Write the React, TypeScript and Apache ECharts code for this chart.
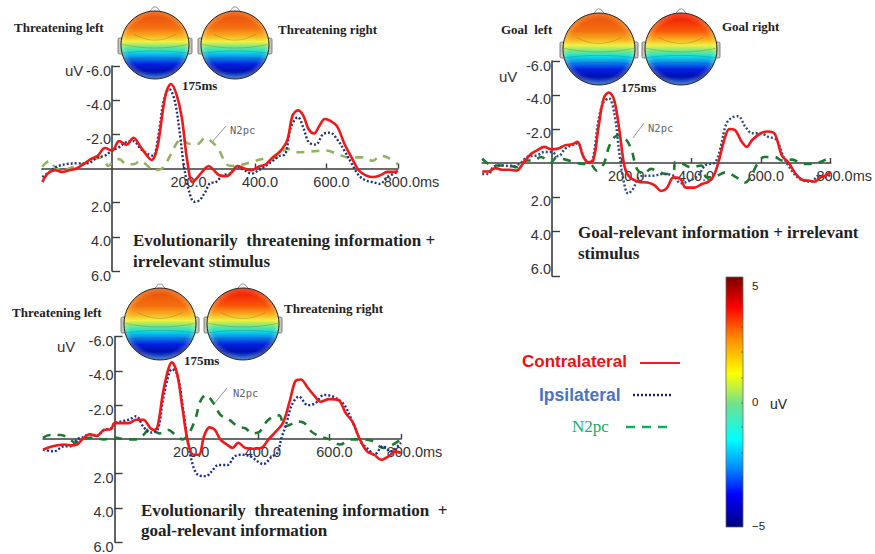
import React, { useEffect, useRef } from "react";
import * as echarts from "echarts";

const yTickValues = [-6, -4, -2, 2, 4, 6];
const yLabelValues = [-6, -4, -2, 2, 4, 6];
const xTickValues = [200, 400, 600, 800];

const threatIrrelevantContra = [[-195,0.8],[-180,0.3],[-160,0.1],[-140,0.2],[-120,0.1],[-100,0],[-80,-0.25],[-60,-0.55],[-40,-0.75],[-20,-1.2],[0,-1.05],[20,-1.6],[40,-1.4],[60,-1.8],[80,-1.25],[100,-0.7],[110,-0.5],[120,-0.75],[130,-1.6],[150,-4.35],[165,-4.95],[180,-4.35],[195,-3],[210,-0.5],[225,0.8],[240,0.5],[260,0],[270,-0.15],[285,0.1],[300,0.4],[320,0.45],[340,0.1],[350,-0.15],[370,0],[390,0.1],[410,-0.1],[430,-0.25],[450,-0.65],[470,-1],[490,-1.65],[505,-3.1],[520,-3.4],[535,-3.1],[550,-2.3],[565,-2.05],[580,-2.5],[595,-2.9],[610,-2.8],[630,-2.45],[650,-1.45],[670,-0.65],[690,0.1],[710,0.4],[730,0.5],[750,0.4],[770,0.2],[790,0.2],[800,0.15]];
const threatIrrelevantIpsi = [[-195,0.5],[-175,0.2],[-155,-0.1],[-130,-0.25],[-100,-0.3],[-70,-0.3],[-40,-0.65],[-20,-0.75],[0,-1.05],[20,-1.25],[40,-1.55],[60,-1.6],[80,-1.15],[100,-0.85],[115,-0.75],[130,-2],[145,-4],[160,-4.65],[175,-4],[190,-2],[200,-0.3],[215,1.3],[230,1.95],[245,1.85],[260,1.4],[275,0.85],[290,0.8],[310,0.4],[330,0.3],[350,-0.1],[370,0.1],[390,0.3],[410,0.1],[430,-0.15],[450,-0.45],[470,-0.75],[485,-0.85],[500,-2.4],[520,-3],[535,-2.4],[550,-1.55],[570,-1.4],[590,-2],[610,-2.1],[630,-1.7],[650,-1.05],[670,-0.3],[690,0.4],[710,0.7],[730,0.8],[750,0.9],[770,0.5],[800,0.2]];
const threatIrrelevantN2pc = [[-195,-0.1],[-175,-0.45],[-160,-0.1],[-140,0.1],[-120,0],[-100,-0.15],[-70,-0.35],[-50,-0.55],[-30,-0.65],[-10,-0.15],[5,-0.45],[20,-0.55],[40,-0.25],[60,-0.25],[80,-0.45],[100,-0.15],[115,0.1],[140,0],[160,-0.65],[180,-1.45],[195,-1.75],[215,-1.45],[240,-1.45],[260,-1.8],[280,-1.55],[300,-1.05],[320,-0.25],[340,-0.15],[370,-0.25],[400,-0.45],[430,-0.6],[460,-0.65],[480,-1.05],[490,-1.15],[520,-0.95],[560,-1],[600,-1.05],[630,-0.85],[660,-0.65],[700,-0.65],[730,-0.45],[750,-0.75],[770,-0.65],[800,-0.25]];

const goalIrrelevantContra = [[-198,0.5],[-180,0.5],[-160,0.3],[-140,0.4],[-120,0.4],[-100,0.45],[-80,0],[-60,-0.5],[-40,-0.75],[-20,-0.95],[0,-0.8],[20,-0.85],[40,-1.05],[60,-1.1],[75,-1.25],[90,-0.45],[105,-0.05],[120,-0.15],[135,-2.1],[150,-3.8],[165,-4.15],[180,-3.7],[195,-1.9],[210,0.25],[225,0.85],[250,1.1],[275,1.15],[295,1.3],[315,1.65],[330,1.5],[350,0.85],[370,0.95],[385,1.45],[410,1.45],[430,1.25],[450,1.1],[465,0.75],[480,-0.15],[495,-1.35],[510,-2],[525,-1.95],[545,-1.25],[560,-0.95],[575,-1.35],[600,-1.75],[620,-1.85],[640,-1.7],[660,-0.45],[680,0],[700,0.65],[720,1],[740,1.05],[755,1.1],[770,0.85],[785,0.75],[800,0.55]];
const goalIrrelevantIpsi = [[-198,0.65],[-180,0.65],[-165,0.2],[-140,0.15],[-110,0.2],[-85,-0.05],[-70,-0.35],[-40,-0.45],[-20,-0.65],[0,-0.65],[20,-0.4],[40,-0.85],[60,-1.05],[75,-1.15],[95,-0.25],[110,0],[120,-0.35],[135,-2.55],[150,-3.6],[165,-3.8],[180,-2.95],[195,-0.55],[205,0.85],[220,1.8],[235,1.5],[250,0.85],[270,0.75],[290,0.75],[320,0.65],[350,0.75],[370,1.2],[390,1.1],[420,0.75],[440,0.15],[455,0.05],[470,-0.05],[485,-0.95],[500,-2.25],[515,-2.65],[535,-2.75],[555,-2.15],[575,-1.75],[600,-1.75],[620,-1.55],[645,-1.35],[665,-0.35],[685,0.35],[705,0.85],[725,1.05],[745,1.1],[765,0.75],[785,0.85],[800,0.65]];
const goalIrrelevantN2pc = [[-198,-0.25],[-180,0.05],[-160,0.15],[-120,0.15],[-100,0.25],[-70,-0.15],[-50,-0.15],[-30,-0.35],[0,-0.05],[15,-0.35],[30,-0.25],[50,-0.15],[90,0.05],[110,0.05],[130,0.45],[150,0.05],[165,-0.95],[180,-1.5],[195,-1.65],[215,-1.35],[230,-0.75],[245,0.35],[265,0.65],[285,0.35],[310,0.55],[330,0.65],[350,0.45],[355,-0.05],[375,0.05],[400,0.25],[430,0.15],[445,0.85],[470,0.8],[500,0.55],[530,0.85],[555,1.15],[570,0.85],[590,0.05],[610,-0.35],[640,-0.35],[660,-0.15],[690,-0.2],[720,0.05],[755,0.05],[780,-0.15],[800,-0.25]];

const threatGoalContra = [[-200,0.6],[-180,0.45],[-160,0.35],[-140,0.3],[-120,0.35],[-105,0.3],[-90,0],[-70,-0.3],[-50,-0.2],[-30,-0.55],[-10,-0.6],[0,-0.95],[20,-0.95],[40,-0.95],[60,-1.15],[80,-1.15],[100,-0.65],[110,-0.55],[120,-0.75],[135,-2.7],[150,-4.1],[160,-4.5],[175,-3.8],[190,-1.75],[205,0.2],[220,0.9],[235,0.9],[250,-0.2],[265,-0.7],[280,-0.55],[295,0],[310,0.25],[330,0.5],[345,0.2],[365,0.5],[390,0.55],[410,0.5],[430,0],[450,-0.45],[470,-0.95],[490,-2.3],[505,-3.4],[520,-3.5],[540,-3],[560,-2.5],[575,-2.2],[600,-2.35],[625,-2.3],[645,-1.55],[665,-1],[685,0],[705,0.7],[725,0.9],[745,1.2],[765,1],[785,0.7],[800,0.8]];
const threatGoalIpsi = [[-200,0.6],[-170,0.7],[-140,0.4],[-120,0.4],[-105,0],[-90,-0.1],[-70,-0.3],[-50,-0.2],[-30,-0.55],[-10,-0.65],[0,-0.95],[20,-1.05],[40,-1.15],[60,-1.35],[80,-0.75],[100,-0.4],[120,-0.55],[135,-2.3],[150,-3.7],[160,-4.1],[175,-3.8],[190,-1.95],[205,0.2],[220,1.6],[235,2.1],[255,2.15],[270,1.9],[290,1.5],[315,1.5],[335,1],[355,0.9],[380,1],[400,1.3],[415,1.45],[440,1],[455,0.8],[465,0],[480,-0.95],[495,-2],[515,-2.5],[540,-2],[560,-2.1],[585,-2.6],[610,-2.5],[640,-2.05],[665,-1],[690,0.2],[710,0.6],[725,0.9],[750,0.4],[770,0.7],[800,0.2]];
const threatGoalN2pc = [[-200,-0.1],[-180,-0.25],[-150,-0.25],[-125,0],[-110,0.2],[-90,0],[-60,-0.1],[-30,0],[0,-0.1],[30,0],[60,0],[80,-0.25],[100,-0.65],[125,-0.35],[150,-0.55],[170,-0.25],[190,0],[205,-0.25],[225,-1.15],[240,-2.25],[255,-2.6],[275,-2.15],[295,-1.45],[320,-1.15],[345,-0.75],[365,-0.65],[385,-0.35],[405,-0.45],[425,-1.05],[445,-1.35],[460,-1.4],[475,-0.75],[490,-0.85],[510,-1.05],[530,-0.95],[550,-0.45],[570,-0.2],[600,0],[630,0.3],[660,0],[690,0],[720,0.1],[750,0.5],[770,0.4],[800,0]];

const SERIF = "Liberation Serif";
const SANS = "Liberation Sans";
const RED = "#f01818";
const NAVY = "#26306e";

const panels = [
  { left: 42, top: 66, width: 356, height: 205, xMin: -196, yMax: 6, ticks: yTickValues, contra: threatIrrelevantContra, ipsi: threatIrrelevantIpsi, n2pc: threatIrrelevantN2pc, green: "#90b45c", blue: NAVY },
  { left: 482.2, top: 61, width: 351.8, height: 215, xMin: -198, yMax: 6.65, ticks: [-6, -4, -2, 2, 4, 6.65], contra: goalIrrelevantContra, ipsi: goalIrrelevantIpsi, n2pc: goalIrrelevantN2pc, green: "#1c7a30", blue: "#2c4a80" },
  { left: 43, top: 336.7, width: 358, height: 206.3, xMin: -200, yMax: 6, ticks: yTickValues, contra: threatGoalContra, ipsi: threatGoalIpsi, n2pc: threatGoalN2pc, green: "#1c7a30", blue: "#1c2c96" },
];

const captions = [
  { text: "Threatening left", x: 14, y: 27, size: 13 },
  { text: "Threatening right", x: 278, y: 29, size: 13 },
  { text: "175ms", x: 182, y: 85, size: 13 },
  { text: "Evolutionarily  threatening information +", x: 133, y: 240, size: 17 },
  { text: "irrelevant stimulus", x: 133, y: 261, size: 17 },
  { text: "Goal  left", x: 501, y: 29, size: 13 },
  { text: "Goal right", x: 722, y: 26, size: 13 },
  { text: "175ms", x: 621, y: 87, size: 13 },
  { text: "Goal-relevant information + irrelevant", x: 578, y: 232, size: 17 },
  { text: "stimulus", x: 578, y: 253, size: 17 },
  { text: "Threatening left", x: 12, y: 312, size: 13 },
  { text: "Threatening right", x: 284, y: 308, size: 13 },
  { text: "175ms", x: 184, y: 360, size: 13 },
  { text: "Evolutionarily  threatening information  +", x: 141, y: 510, size: 17 },
  { text: "goal-relevant information", x: 141, y: 530, size: 17 },
];

const unitLabels = [
  { x: 65, y: 70 },
  { x: 499, y: 76 },
  { x: 57, y: 346 },
];

const n2pcNotes = [
  { x: 230, y: 130, from: [212, 142], to: [226, 126] },
  { x: 648, y: 128, from: [633, 138], to: [644, 123] },
  { x: 233, y: 393, from: [214, 404], to: [227, 388] },
];

const heads = [
  { cx: 155, cy: 45, r: 34, hot: false },
  { cx: 235, cy: 45, r: 34, hot: false },
  { cx: 599, cy: 49, r: 36, hot: false },
  { cx: 681, cy: 49, r: 36, hot: true },
  { cx: 160, cy: 324, r: 36, hot: false },
  { cx: 243, cy: 324, r: 36, hot: true },
];

const barStops: [number, string][] = [
  [0, "#7a0000"], [0.12, "#ff0000"], [0.25, "#ff9000"], [0.385, "#ffff00"],
  [0.51, "#70e090"], [0.65, "#00ffff"], [0.76, "#0090ff"], [0.87, "#0000ff"], [1, "#000080"],
];

const grad = (stops: [number, string][]) => ({
  type: "linear", x: 0, y: 0, x2: 0, y2: 1, global: false,
  colorStops: stops.map(([offset, color]) => ({ offset, color })),
});

function headGraphic(h: { cx: number; cy: number; r: number; hot: boolean }) {
  const { cx, cy, r, hot } = h;
  const top = hot ? "#f00c04" : "#e84a08";
  const upper = hot ? "#f85808" : "#f47010";
  const line = "rgba(70,70,50,0.4)";
  const contour = (dy: number, bend: number, half: number) => ({
    type: "bezierCurve",
    shape: { x1: cx - half, y1: cy + dy, x2: cx + half, y2: cy + dy, cpx1: cx - half / 3, cpy1: cy + dy + bend, cpx2: cx + half / 3, cpy2: cy + dy + bend },
    style: { stroke: line, lineWidth: 0.6, fill: "none" },
    silent: true,
  });
  return [
    { type: "rect", shape: { x: cx - r - 3, y: cy - 7, width: 5, height: 16, r: 1.5 }, style: { fill: "#c8c8c0", stroke: "#666", lineWidth: 0.8 } },
    { type: "rect", shape: { x: cx + r - 2, y: cy - 7, width: 5, height: 16, r: 1.5 }, style: { fill: "#c8c8c0", stroke: "#666", lineWidth: 0.8 } },
    { type: "polyline", shape: { points: [[cx - 5, cy - r], [cx - 1.5, cy - r - 4], [cx + 1.5, cy - r - 4], [cx + 5, cy - r]] }, style: { stroke: "#777", lineWidth: 0.8, fill: "none" } },
    {
      type: "circle", shape: { cx, cy, r },
      style: {
        fill: grad([[0, top], [0.25, upper], [0.37, "#f8b020"], [0.45, "#f0f040"], [0.52, "#80e880"], [0.6, "#10e0e0"], [0.68, "#0890f0"], [0.78, "#0020e0"], [0.88, "#0010b0"], [1, "#1060e0"]]),
        stroke: "none",
      },
    },
    {
      type: "circle", shape: { cx, cy, r },
      style: {
        fill: {
          type: "radial", x: 0.5, y: 0.5, r: 0.5, global: false,
          colorStops: [{ offset: 0, color: "rgba(255,255,160,0)" }, { offset: 0.82, color: "rgba(255,255,160,0)" }, { offset: 1, color: "rgba(255,255,160,0.28)" }],
        },
        stroke: "#222", lineWidth: 1,
      },
    },
    contour(-r * 0.32, 8, r * 0.62),
    contour(-r * 0.02, 5, r * 0.97),
    contour(r * 0.24, -3, r * 0.94),
    contour(r * 0.42, -2, r * 0.88),
  ];
}

function buildOption() {
  const grid = panels.map((p) => ({ left: p.left, top: p.top, width: p.width, height: p.height, containLabel: false }));
  const xAxis = panels.map((p, i) => ({
    type: "value", gridIndex: i, min: p.xMin, max: 800, position: "bottom",
    // the baseline sits at y = 0, inside the grid
    offset: -(p.height * p.yMax) / (6 + p.yMax),
    splitLine: { show: false },
    axisLine: { onZero: false, lineStyle: { color: "#3c3c3c", width: 1.6 } },
    axisTick: { show: true, inside: true, length: 5, customValues: xTickValues, lineStyle: { color: "#3c3c3c", width: 1.4 } },
    axisLabel: {
      customValues: xTickValues, margin: 6, hideOverlap: false,
      formatter: (v: number) => (v === 800 ? "{b|800.0ms}" : "{a|" + v.toFixed(1) + "}"),
      rich: {
        a: { fontFamily: SANS, fontSize: 14.5, color: "#333", padding: [0, 0, 0, 10] },
        b: { fontFamily: SANS, fontSize: 14.5, color: "#333", padding: [0, 0, 0, 27] },
      },
    },
  }));
  const yAxis = panels.map((p, i) => ({
    type: "value", gridIndex: i, min: -6, max: p.yMax, inverse: true, position: "left",
    // the vertical axis sits at t = 0, inside the grid
    offset: -(p.width * -p.xMin) / (800 - p.xMin),
    splitLine: { show: false },
    axisLine: { onZero: false, lineStyle: { color: "#3c3c3c", width: 1.6 } },
    axisTick: { show: true, inside: true, length: 8, customValues: p.ticks, lineStyle: { color: "#3c3c3c", width: 1.4 } },
    axisLabel: {
      customValues: yLabelValues, margin: 1, hideOverlap: false,
      fontFamily: SANS, fontSize: 14.5, color: "#333", verticalAlign: "top", lineHeight: 9,
      formatter: (v: number) => v.toFixed(1),
    },
  }));
  const series: any[] = [];
  panels.forEach((p, i) => {
    const base = { type: "line", xAxisIndex: i, yAxisIndex: i, symbol: "none", smooth: 0.35, silent: true };
    series.push({ ...base, name: "N2pc", data: p.n2pc, z: 2, lineStyle: { color: p.green, width: 2.6, type: [8, 7] } });
    series.push({ ...base, name: "Ipsilateral", data: p.ipsi, z: 3, lineStyle: { color: p.blue, width: 2.4, type: [2, 2] } });
    series.push({ ...base, name: "Contralateral", data: p.contra, z: 4, lineStyle: { color: RED, width: 2.6 } });
  });

  const txt = (text: string, x: number, y: number, font: string, size: number, fill: string, weight = "normal", align = "left") => ({
    type: "text", x, y, silent: true,
    style: { text, font: `${weight} ${size}px "${font}"`, fill, textAlign: align, textVerticalAlign: "middle" },
  });

  const graphic: any[] = [];
  heads.forEach((h) => graphic.push(...headGraphic(h)));
  captions.forEach((c) => graphic.push(txt(c.text, c.x, c.y, SERIF, c.size, "#222", "bold")));
  unitLabels.forEach((u) => graphic.push(txt("uV", u.x, u.y, SANS, 15, "#333")));
  n2pcNotes.forEach((n) => {
    graphic.push(txt("N2pc", n.x, n.y, "DejaVu Sans Mono", 10.5, "#666"));
    graphic.push({ type: "line", shape: { x1: n.from[0], y1: n.from[1], x2: n.to[0], y2: n.to[1] }, style: { stroke: "#777", lineWidth: 0.8 } });
  });

  graphic.push(txt("Contralateral", 522, 361, SANS, 17, "#f01010", "bold"));
  graphic.push({ type: "line", shape: { x1: 640, y1: 363, x2: 680, y2: 363 }, style: { stroke: "#ee1c25", lineWidth: 2.2 } });
  graphic.push(txt("Ipsilateral", 539, 395, SANS, 17.5, "#4a74c4", "bold"));
  graphic.push({ type: "line", shape: { x1: 633, y1: 395, x2: 673, y2: 395 }, style: { stroke: "#1c2080", lineWidth: 2.4, lineDash: [2, 2] } });
  graphic.push(txt("N2pc", 572, 426, SERIF, 17, "#10b060"));
  graphic.push({ type: "line", shape: { x1: 626, y1: 427, x2: 667, y2: 427 }, style: { stroke: "#10b060", lineWidth: 2.4, lineDash: [9, 7] } });

  graphic.push({ type: "rect", shape: { x: 726, y: 277, width: 17, height: 250 }, style: { fill: grad(barStops), stroke: "#666", lineWidth: 0.8 } });
  [286, 327, 352, 378, 403, 427, 453, 478, 502].forEach((y) =>
    graphic.push({ type: "line", shape: { x1: 741, y1: y, x2: 743, y2: y }, style: { stroke: "#444", lineWidth: 0.6 } })
  );
  graphic.push(txt("5", 752, 286, SANS, 11.5, "#222"));
  graphic.push(txt("0", 752, 402, SANS, 11.5, "#222"));
  graphic.push(txt("\u22125", 752, 526, SANS, 11.5, "#222"));
  graphic.push(txt("uV", 770, 404, SANS, 14, "#222"));

  return { animation: false, backgroundColor: "#ffffff", grid, xAxis, yAxis, series, graphic: { elements: graphic } };
}

export default function App() {
  const ref = useRef<HTMLDivElement>(null);
  useEffect(() => {
    const chart = echarts.init(ref.current!, undefined, { renderer: "svg" });
    chart.setOption(buildOption() as any);
    return () => chart.dispose();
  }, []);
  return <div ref={ref} style={{ position: "fixed", left: 0, top: 0, width: 875, height: 554 }} />;
}
